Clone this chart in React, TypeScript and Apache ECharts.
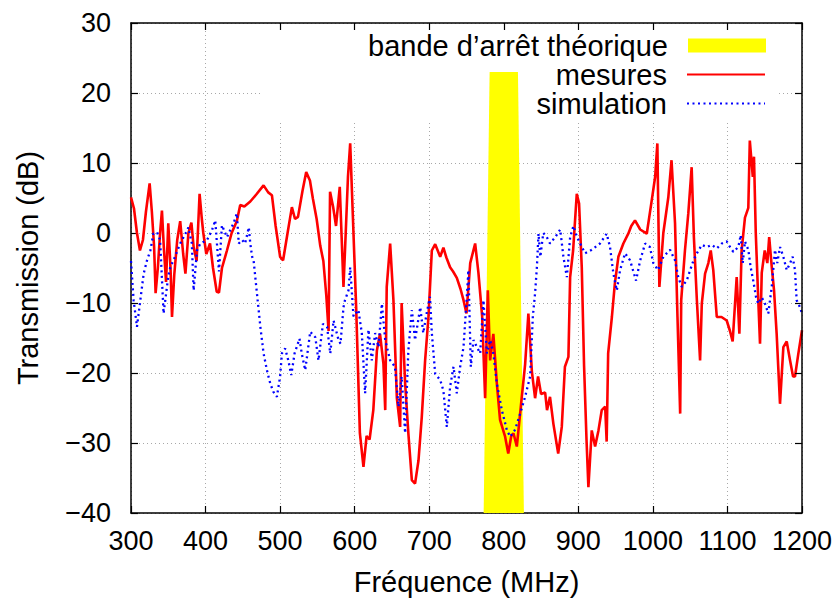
import React, { useEffect, useRef } from "react";
import * as echarts from "echarts";

const xTicks = [300, 400, 500, 600, 700, 800, 900, 1000, 1100, 1200];
const yTicks = [-40, -30, -20, -10, 0, 10, 20, 30];

const bandName = "bande d’arrêt théorique";
const measName = "mesures";
const simName = "simulation";

const bandFreq = [781, 819, 827, 773];
const bandDb = [23, 23, -40, -40];

const measFreq = [
  300, 304, 308, 312, 316, 320, 325, 328, 331, 333, 336, 339, 341.5, 344, 347, 350, 353, 355, 358, 362,
  366, 370, 373, 377, 381, 384, 388, 392, 395, 397, 401, 406, 410, 415, 418, 422, 428.7, 435, 442, 446.5,
  452, 460, 468, 477.8, 484, 489, 494, 500, 504, 510, 515.8, 520, 524, 530, 535, 540, 544, 549, 553.8, 558,
  562, 565, 567, 571, 575, 580, 585, 588, 591, 594, 598.4, 602, 607, 611.8, 616, 620, 625, 629.8, 634, 638.6,
  641, 643, 647.6, 652, 656.6, 661, 663, 667.7, 672, 676.7, 681, 685.6, 690, 694.5, 699, 703.5, 708, 714.7, 719, 723,
  728, 732, 737, 742, 746, 750, 755, 761.6, 766, 771, 775, 778.6, 781.7, 786, 790.7, 795, 801.8, 806, 810, 813,
  817.5, 824, 828.6, 833, 837.7, 842, 846, 850, 855.5, 858, 862, 866.6, 873, 877.8, 882, 886.7, 889, 893, 897.9, 901,
  904.6, 907.7, 911, 913.5, 918, 922.5, 927, 931.4, 936, 938, 940, 945, 949, 953.7, 960.4, 967, 971, 976, 983, 991.8,
  998.5, 1003, 1006, 1008.7, 1014, 1020.7, 1025, 1029.7, 1033, 1036.6, 1038, 1043, 1047.5, 1052, 1055, 1059, 1063.3, 1065.6, 1070, 1074.4,
  1077.6, 1081, 1085.7, 1092, 1099, 1103.4, 1107, 1112.4, 1116, 1119, 1123.5, 1128, 1130, 1134, 1135.6, 1138, 1141, 1143.7, 1146, 1150,
  1153.5, 1156, 1159.4, 1162.5, 1166, 1170.5, 1175, 1179.5, 1184, 1188, 1190.6, 1195, 1200,
];
const measDb = [
  5.1, 3.5, 0, -2.5, -1, 3, 7.1, 3, -2, -8.6, -5, 0, 3.2, -2, -7, 1.4, -5, -12, -6, -1,
  1.7, -3, -5.8, 0, 1.5, -2, -4, 5.6, 2, 0, -3, -1.5, -5, -8.4, -8.5, -5, -2.5, 0, 1.7, 4.0,
  3.8, 4.5, 5.5, 6.8, 5.8, 5.4, 1, -3.4, -3.9, 0, 3.7, 2, 2.3, 6, 8.7, 7.5, 4.9, 2, -1.8, -4,
  -9, -14, 5.9, 3.8, 1, 6.6, -7.7, 0, 8, 12.8, 0, -10.6, -28.6, -33.4, -29, -29.5, -25.3, -16.8, -14.4, -18.7,
  -25.3, -7.7, -1.5, -9.6, -23.6, -27.7, -10, -21.5, -28.6, -35.3, -35.8, -32.5, -26.3, -18.2, -12, -2.5, -1.6, -3.4, -2.1, -3.5,
  -4.9, -5.5, -6.4, -8, -9.6, -11.5, -4.3, -1.5, -5.7, -11.9, -23.6, -8.2, -18.2, -14.4, -21.5, -26.7, -29.1, -31.5, -29, -28.6,
  -30.5, -23.6, -18.8, -11.5, -19.8, -23.6, -20.5, -23, -22.8, -25.3, -23.4, -27.3, -31.5, -27.7, -19.1, -17.7, -6.3, -2.5, 5.6, 4.2,
  -4.9, -19, -29.6, -36.3, -28.2, -30.5, -28.2, -25.3, -24.8, -29.8, -17.2, -12, -7.2, -3.4, -1.5, -0.1, 1, 1.8, 0.5, -0.1,
  4.7, 8, 12.8, -7.7, 0, 5.1, 10.4, 1.4, -12, -25.8, -9.6, -2.5, 2.8, 9.4, -0.6, -9.6, -18.2, -10.1, -5.8, -4.3,
  -2.5, -5.3, -12, -12, -12.5, -14, -15.5, -6.3, -14.4, -2.5, 2.2, 3.6, 13.2, 8, 10.9, 0, -8.6, -15.8, -5.7, -2.5,
  -4.3, -0.6, -4.8, -8.2, -14.4, -24.4, -16.3, -15.5, -18.2, -20.5, -20.5, -17.3, -13.9,
];

const simFreq = [
  300, 303.5, 308, 312.5, 317, 321.5, 326, 330, 335, 339, 343.7, 350, 352.7, 359, 366, 373, 377, 381.6, 384, 388.5,
  393, 402, 408.6, 413, 418, 422, 428.7, 433, 437.6, 442, 444.5, 449, 453, 458, 460, 462.5, 464.4, 469, 473.5, 477.8,
  482.3, 486.8, 491, 495.7, 500, 502.4, 506.8, 511, 515, 519.4, 526, 529, 533.7, 540.4, 547.2, 551.5, 557.4, 563, 567.3, 571.7,
  578.4, 581, 585, 587, 591.7, 594, 598.4, 605, 609.6, 614, 618.5, 623, 627.5, 632, 636.5, 641, 647.6, 654, 658.8, 663,
  667.7, 672, 676.7, 681, 688, 692, 696.7, 701, 703.5, 708, 714.7, 719, 723.6, 728, 732.6, 737, 741.5, 746, 749.5, 752.6,
  755.8, 759.4, 764, 768.3, 772.7, 777.4, 781.7, 786, 790.7, 797.4, 804, 808.5, 815.2, 822, 828.6, 835.3, 839, 842, 844.4, 846.6,
  849, 853, 857.7, 862, 869, 875.7, 880, 884.6, 889, 893.4, 898, 902.4, 909, 918, 929, 938, 942.5, 947, 951.6, 956,
  962.7, 969.4, 977.4, 983, 989.6, 996, 1000.6, 1007, 1014, 1023, 1029.7, 1034, 1038.7, 1045.4, 1050, 1054.5, 1059, 1065.6, 1072.4, 1079,
  1085.7, 1092.4, 1099, 1103.4, 1107.9, 1114.6, 1117.8, 1120.5, 1123.5, 1128, 1131, 1134.6, 1138.4, 1141.4, 1146, 1150.4, 1154.8, 1159.4, 1163.8, 1166.8,
  1170.5, 1175, 1179.5, 1184, 1187.5, 1190.6, 1192.8, 1197.3, 1200,
];
const simDb = [
  -4, -9.6, -13.4, -9.6, -5.8, -3.9, -2.5, -0.1, 0.1, -1, -11.5, -6.2, -4.9, -3.4, -1.5, -0.1, 0.8, -1.5, -8.2, -2.5,
  -1.5, -1, 0.4, 1.8, -5.5, 1.1, -0.6, 0.4, 1.4, 2.8, -1.5, -1, -1.5, 0.8, -1.5, -3.4, -3.9, -8.7, -13.4, -17.2,
  -19.6, -21.5, -22.7, -23.4, -20.5, -17.2, -16.5, -18.2, -20.3, -17.2, -15.1, -17.2, -19.6, -14.1, -14.9, -18.2, -13, -13.4, -17.2, -12.5,
  -15.3, -15.8, -10.6, -9.6, -8.2, -4.9, -11.9, -11, -14.3, -22.9, -13.8, -18.2, -14.3, -16.3, -10.1, -15.3, -18.2, -19.1, -24.8, -20.5,
  -28.6, -16.8, -11, -15.3, -10.6, -14.3, -11.4, -9.1, -14.3, -20.1, -21, -22.5, -27.7, -22, -19.1, -22.9, -19.1, -16.3, -10.6, -5.3,
  -19.1, -15.3, -16.3, -17.2, -9.6, -17.2, -15.3, -17.2, -21.5, -25.3, -28.1, -29.1, -28.1, -25.8, -23.4, -20.5, -11.9, -8.6, -4.9, -0.1,
  -3.4, 0, -0.6, -1.5, -0.6, 0.5, -3.4, -6.3, -0.6, 1, -0.5, -1.5, -2.9, -2.4, -1.5, -0.1, -2, -5.8, -8.2, -5.3,
  -2.9, -3.9, -6.8, -3.9, -1.5, -2, -4.3, -5.3, -3.4, -2.4, -3.9, -6.3, -7.7, -6.8, -5.3, -3.9, -2.9, -1.7, -2, -1.7,
  -2.2, -1.5, -1.2, -2, -2.7, -2, -0.3, -4.3, -1.2, -2.4, -4.8, -6.8, -9.2, -10.1, -9.2, -10.1, -11.5, -7.7, -2.4, -4.3,
  -2, -3.4, -5.3, -4.3, -3.4, -5.3, -9.6, -10.6, -11.5,
];

const FONT = "'Liberation Sans', Arial, Helvetica, sans-serif";
const FS = 27;
const FS_BIG = 29;

export default function App() {
  const ref = useRef<HTMLDivElement>(null);
  useEffect(() => {
    if (!ref.current) return;
    const chart = echarts.init(ref.current, null, { renderer: "svg" });
    const axisCommon = {
      type: "value" as const,
      axisLine: { show: true, onZero: false, lineStyle: { color: "#000", width: 1.5 } },
      axisTick: { show: true, inside: true, length: 7, lineStyle: { color: "#000", width: 1.2 } },
    };
    const legendCommon = {
      right: 73,
      padding: 0,
      align: "right" as const,
      itemWidth: 78,
      itemHeight: 14,
      selectedMode: false,
      itemStyle: { opacity: 0 },
      textStyle: { fontSize: FS_BIG, color: "#000", fontFamily: FONT, padding: [0, 15, 0, 0] },
      z: 6,
    };
    chart.setOption({
      animation: false,
      backgroundColor: "#fff",
      textStyle: { fontFamily: FONT },
      grid: { left: 131, top: 23, right: 37, bottom: 89, containLabel: false },
      xAxis: [
        {
          ...axisCommon,
          position: "bottom",
          min: xTicks[0],
          max: xTicks[xTicks.length - 1],
          interval: 100,
          z: 0,
          axisLabel: { fontSize: FS, color: "#000", margin: 14, fontFamily: FONT, formatter: (v: number) => String(v) },
          splitLine: { show: true, lineStyle: { color: "#a8a8a8", width: 1, type: [1, 3] } },
          name: "Fréquence (MHz)",
          nameLocation: "middle",
          nameGap: 54,
          nameTextStyle: { fontSize: FS_BIG, color: "#000", fontFamily: FONT },
        },
        {
          ...axisCommon,
          position: "top",
          min: xTicks[0],
          max: xTicks[xTicks.length - 1],
          interval: 100,
          z: 5,
          axisLabel: { show: false },
          splitLine: { show: false },
        },
      ],
      yAxis: [
        {
          ...axisCommon,
          position: "left",
          min: yTicks[0],
          max: yTicks[yTicks.length - 1],
          interval: 10,
          z: 0,
          axisLabel: { fontSize: FS, color: "#000", margin: 20, fontFamily: FONT, formatter: (v: number) => String(v).replace("-", "\u2212") },
          splitLine: { show: true, lineStyle: { color: "#a8a8a8", width: 1, type: [1, 3] } },
          name: "Transmission (dB)",
          nameLocation: "middle",
          nameGap: 89,
          nameTextStyle: { fontSize: FS_BIG, color: "#000", fontFamily: FONT },
        },
        {
          ...axisCommon,
          position: "right",
          min: yTicks[0],
          max: yTicks[yTicks.length - 1],
          interval: 10,
          z: 5,
          axisLabel: { show: false },
          splitLine: { show: false },
        },
      ],
      graphic: [
        {
          type: "rect",
          left: 262,
          top: 24,
          z: 1,
          shape: { width: 514, height: 96 },
          style: { fill: "#fff" },
          silent: true,
        },
      ],
      legend: [
        { ...legendCommon, data: [{ name: bandName, icon: "rect" }], top: 31, itemStyle: { opacity: 1 } },
        { ...legendCommon, data: [{ name: measName }], top: 60 },
        { ...legendCommon, data: [{ name: simName }], top: 89 },
      ],
      series: [
        {
          name: bandName,
          type: "custom",
          xAxisIndex: 0,
          yAxisIndex: 0,
          z: 2,
          itemStyle: { color: "#ffff00" },
          encode: { x: 0, y: 1 },
          data: bandFreq.map((f, i) => [f, bandDb[i]]),
          renderItem: (params: any, api: any) => {
            if (params.dataIndex !== 0) return null;
            const pts = bandFreq.map((f, i) => api.coord([f, bandDb[i]]));
            return {
              type: "polygon",
              shape: { points: pts },
              style: { fill: "#ffff00" },
            };
          },
        },
        {
          name: measName,
          type: "line",
          xAxisIndex: 0,
          yAxisIndex: 0,
          z: 3,
          showSymbol: false,
          symbol: "none",
          color: "#ff0000",
          lineStyle: { color: "#ff0000", width: 2.6 },
          data: measFreq.map((f, i) => [f, measDb[i]]),
        },
        {
          name: simName,
          type: "line",
          xAxisIndex: 0,
          yAxisIndex: 0,
          z: 4,
          showSymbol: false,
          symbol: "none",
          color: "#0000ff",
          lineStyle: { color: "#0000ff", width: 2.3, type: [2, 3.5] },
          data: simFreq.map((f, i) => [f, simDb[i]]),
        },
      ],
    });
    return () => chart.dispose();
  }, []);
  return <div ref={ref} style={{ width: 839, height: 602, position: "absolute", left: 0, top: 0 }} />;
}
